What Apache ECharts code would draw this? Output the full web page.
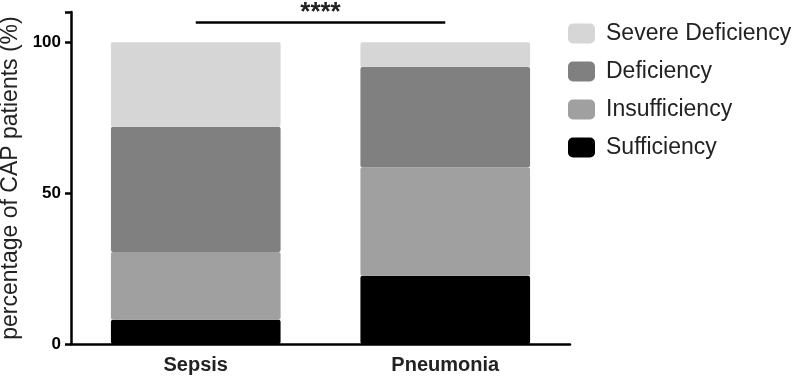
<!DOCTYPE html>
<html>
<head>
<meta charset="utf-8">
<script src="https://cdn.jsdelivr.net/npm/echarts@6/dist/echarts.min.js"></script>
<style>
  html, body { margin: 0; padding: 0; background: #fff; }
  #main { width: 800px; height: 379px; }
</style>
</head>
<body>
<div id="main"></div>
<script>
// data
var groups = ['Sepsis', 'Pneumonia'];
var sufficiency = [8, 22.6];
var insufficiency = [22.5, 36];
var deficiency = [41.5, 33.2];
var severeDeficiency = [28, 8.2];
var yTicks = [0, 50, 100];
var sigLabel = '****';

var myChart = echarts.init(document.getElementById('main'));

function barSeries(name, data, color) {
  return {
    name: name,
    type: 'bar',
    stack: 'total',
    barWidth: '68%',
    data: data,
    itemStyle: { color: color, borderRadius: 2 }
  };
}

var series = [
  barSeries('Sufficiency', sufficiency, '#000000'),
  barSeries('Insufficiency', insufficiency, '#a0a0a0'),
  barSeries('Deficiency', deficiency, '#808080'),
  barSeries('Severe Deficiency', severeDeficiency, '#d6d6d6')
];

// significance bracket between the groups
series[3].markLine = {
  silent: true,
  symbol: 'none',
  lineStyle: { color: '#000', width: 2.5, type: 'solid' },
  label: {
    show: true,
    position: 'middle',
    formatter: sigLabel,
    color: '#222',
    fontSize: 26,
    fontWeight: 'bold',
    fontFamily: 'Liberation Sans, Arial',
    distance: -4
  },
  data: [[{ coord: [groups[0], 106.6] }, { coord: [groups[1], 106.6] }]]
};

var option = {
  animation: false,
  grid: { left: 71, right: 230, top: 12, bottom: 35, outerBoundsMode: 'none', containLabel: false },
  legend: {
    data: ['Severe Deficiency', 'Deficiency', 'Insufficiency', 'Sufficiency'],
    orient: 'vertical',
    left: 563,
    top: 17,
    itemWidth: 27,
    itemHeight: 20,
    itemGap: 15,
    icon: 'roundRect',
    textStyle: { fontSize: 23, color: '#222', fontFamily: 'Liberation Sans, Arial', padding: [0, 0, 0, 6] }
  },
  xAxis: {
    type: 'category',
    data: groups,
    axisLine: { lineStyle: { color: '#000', width: 2.5 } },
    axisTick: { alignWithLabel: true, length: 7, lineStyle: { color: '#000', width: 2.5 } },
    axisLabel: { color: '#222', fontSize: 20, fontWeight: 'bold', margin: 11, fontFamily: 'Liberation Sans, Arial' }
  },
  yAxis: {
    type: 'value',
    min: 0,
    max: 110,
    interval: 50,
    name: 'percentage of CAP patients (%)',
    nameLocation: 'middle',
    nameGap: 45,
    nameTextStyle: { fontSize: 23, color: '#222', fontFamily: 'Liberation Sans, Arial' },
    splitLine: { show: false },
    axisLine: { show: true, lineStyle: { color: '#000', width: 2.5 } },
    axisTick: { show: true, length: 6, lineStyle: { color: '#000', width: 2.5 } },
    axisLabel: {
      color: '#000', fontSize: 17, fontWeight: 'bold', margin: 10, fontFamily: 'Liberation Sans, Arial',
      formatter: function (v) { return yTicks.indexOf(v) >= 0 ? String(v) : ''; }
    }
  },
  series: series
};

myChart.setOption(option);
</script>
</body>
</html>
